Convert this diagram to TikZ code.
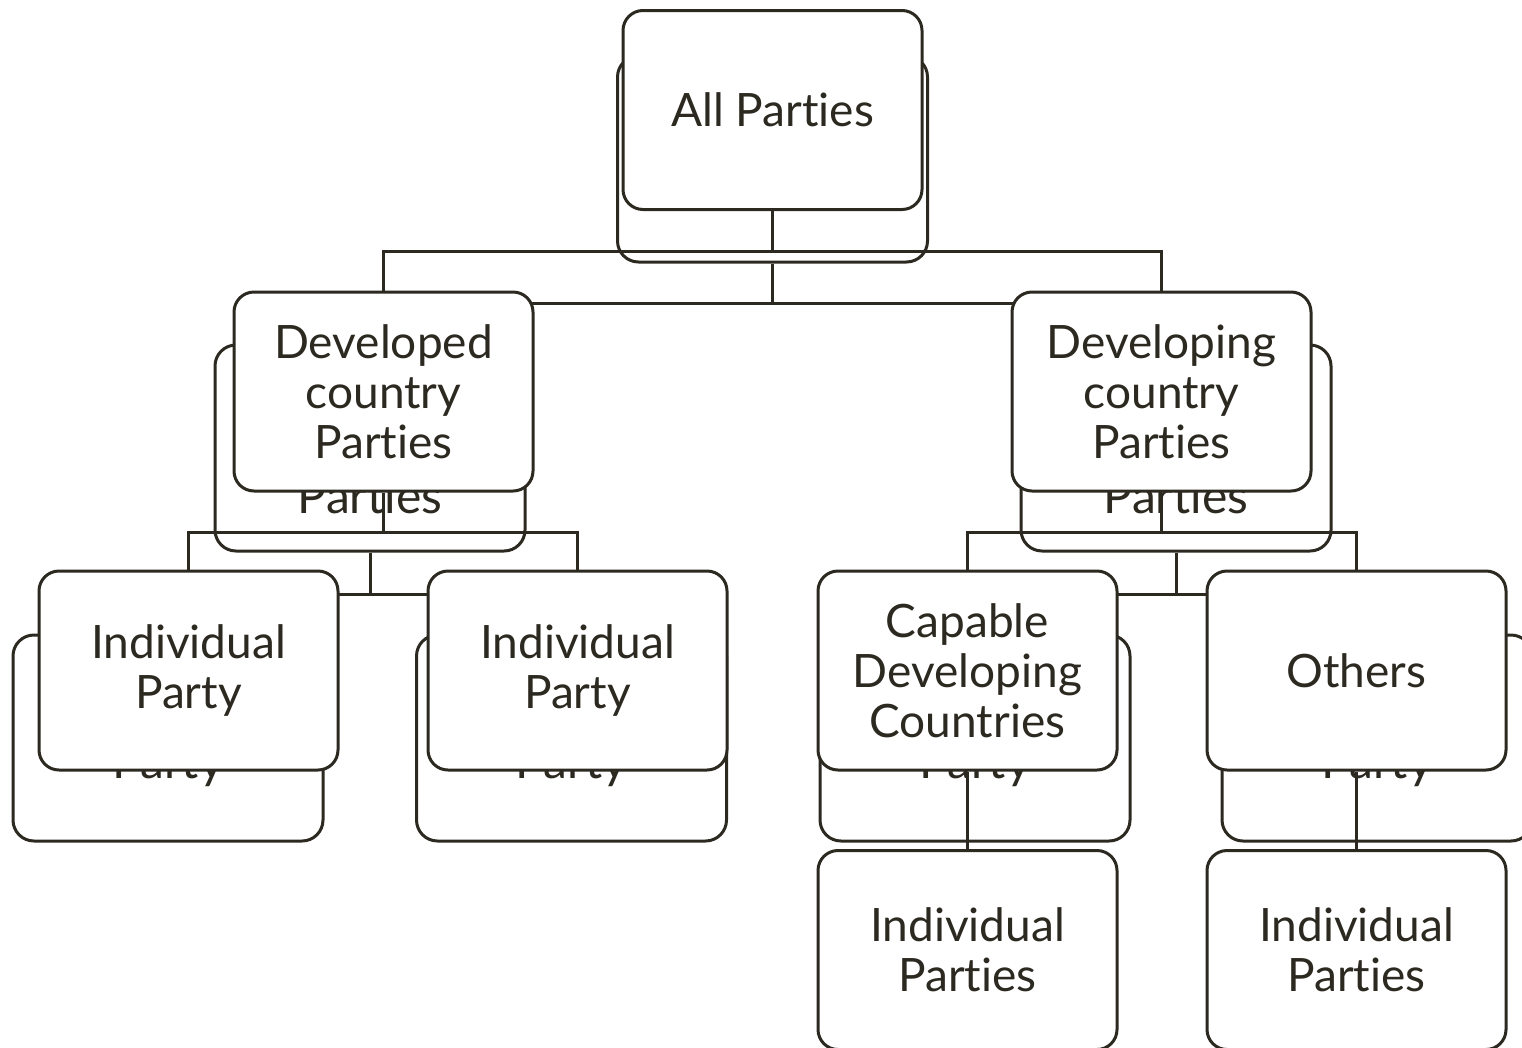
\documentclass[tikz,border=0pt]{standalone}
\usepackage{fontspec}
\setmainfont{Lato}[Ligatures={NoCommon}]
\definecolor{ln}{RGB}{44,41,33}
\pgfdeclarelayer{ghost}
\pgfdeclarelayer{conn}
\pgfsetlayers{ghost,conn,main}
\begin{document}
\begin{tikzpicture}[x=1pt,y=-1pt,
  card/.style={draw=ln, line width=3pt, rounded corners=20pt, fill=white,
    minimum width=299pt, minimum height=199pt, inner sep=0pt, align=center,
    text=ln, font=\fontsize{46}{50}\selectfont},
  ghostcard/.style={draw=ln, line width=3pt, rounded corners=21pt, fill=white,
    minimum width=310pt, minimum height=206pt, inner sep=0pt},
  ghosttext/.style={text=ln, font=\fontsize{48}{52}\selectfont, anchor=base, inner sep=0pt},
  wire/.style={draw=ln, line width=3pt}
]
\useasboundingbox (0,0) rectangle (1522,1047);

% front layer
\node[card] (all) at (772.5,110) {All Parties};
\node[card] (dev) at (383.5,391.5) {Developed\\country\\Parties};
\node[card] (dvg) at (1161.5,391.5) {Developing\\country\\Parties};
\node[card] (ip1) at (188.5,670.5) {Individual\\Party};
\node[card] (ip2) at (577.5,670.5) {Individual\\Party};
\node[card] (cap) at (967.5,670.5) {Capable\\Developing\\Countries};
\node[card] (oth) at (1356.5,670.5) {Others};
\node[card] (ips1) at (967.5,950) {Individual\\Parties};
\node[card] (ips2) at (1356.5,950) {Individual\\Parties};

\begin{pgfonlayer}{conn}
\draw[wire] (all.south) -- ++(0,40) coordinate (j1);
\draw[wire] (dev.north) |- (j1) -| (dvg.north);
\draw[wire] (dev.south) -- ++(0,40) coordinate (j2);
\draw[wire] (ip1.north) |- (j2) -| (ip2.north);
\draw[wire] (dvg.south) -- ++(0,40) coordinate (j3);
\draw[wire] (cap.north) |- (j3) -| (oth.north);
\draw[wire] (cap.south) -- (ips1.north);
\draw[wire] (oth.south) -- (ips2.north);
\end{pgfonlayer}

% ghost layer
\begin{pgfonlayer}{ghost}
\node[ghostcard] (gall) at (772.5,159) {};
\node[ghostcard] (gdev) at (370,448) {};
\node[ghostcard] (gdvg) at (1176,448) {};
\node[ghostcard] (gip1) at (168,738) {};
\node[ghostcard] (gip2) at (571.5,738) {};
\node[ghostcard] (gcap) at (975,738) {};
\node[ghostcard] (goth) at (1377,738) {};
\draw[wire] (gall.south) -- ++(0,40) coordinate (g1);
\draw[wire] (gdev.north) |- (g1) -| (gdvg.north);
\draw[wire] (gdev.south) -- ++(0,42) coordinate (g2);
\draw[wire] (gip1.north) |- (g2) -| (gip2.north);
\draw[wire] (gdvg.south) -- ++(0,42) coordinate (g3);
\draw[wire] (gcap.north) |- (g3) -| (goth.north);
\node[ghosttext] (gt1) at (370,513) {Parties};
\node[ghosttext] (gt2) at (1176,513) {Parties};
\node[ghosttext] (gt3) at (168,778) {Party};
\node[ghosttext] (gt4) at (571.5,778) {Party};
\node[ghosttext] (gt5) at (975,778) {Party};
\node[ghosttext] (gt6) at (1377,778) {Party};
\end{pgfonlayer}
\end{tikzpicture}
\end{document}
